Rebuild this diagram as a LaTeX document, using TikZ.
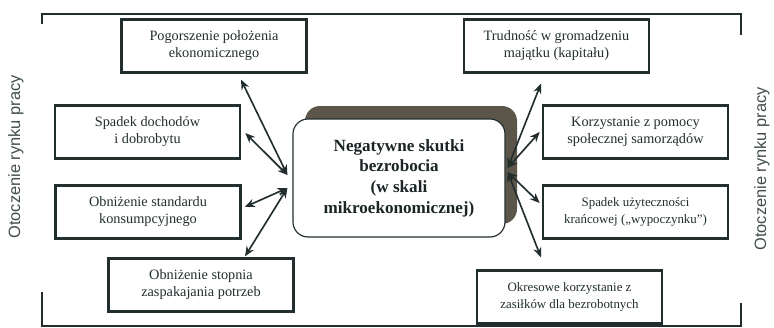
\documentclass[tikz,border=0pt]{standalone}
\usepackage{fontspec}
\setmainfont{Liberation Serif}
\newfontfamily\bokfont{Liberation Sans}
\usetikzlibrary{arrows.meta,calc,shadows}

\definecolor{ramka}{RGB}{34,46,46}
\definecolor{cien}{RGB}{92,86,74}

\tikzset{
  skutek/.style={draw=ramka,line width=2.2pt,minimum width=5.55cm,minimum height=1.58cm,
    align=center,text=ramka,inner sep=2pt,font=\fontsize{12.2}{14.5}\selectfont},
  skutekmaly/.style={skutek,font=\fontsize{11}{14}\selectfont},
  glowny/.style={draw=ramka,line width=1pt,rounded corners=0.45cm,fill=white,
    minimum width=6.36cm,minimum height=3.54cm,align=center,text=ramka!80!black,
    font=\fontsize{14.6}{17.6}\selectfont\bfseries,
    general shadow={shadow xshift=0.36cm,shadow yshift=0.39cm,fill=cien}},
  polaczenie/.style={{Stealth[length=8.5pt,width=7pt]}-{Stealth[length=8.5pt,width=7pt]},
    line width=1.4pt,draw=ramka},
  bok/.style={rotate=90,text=ramka!85,font=\bokfont\fontsize{14}{16}\selectfont}
}

\begin{document}
\begin{tikzpicture}[x=0.03cm,y=-0.03cm]
  \useasboundingbox (0,0) rectangle (774,327);

  % ramka otoczenia
  \draw[ramka,line width=2pt] (42,24) -- (42,14) -- (741,14) -- (741,35);
  \draw[ramka,line width=2pt] (42,292) -- (42,326) -- (741,326) -- (741,303);
  \node[bok] (otlewe) at (16,157) {Otoczenie rynku pracy};
  \node[bok] (otprawe) at (762,169) {Otoczenie rynku pracy};

  % srodek
  \node[glowny] (skutki) at (399,178) {Negatywne skutki\\bezrobocia\\(w skali\\mikroekonomicznej)};

  % lewa strona
  \node[skutek] (pogorszenie) at (214,46) {Pogorszenie położenia\\ekonomicznego};
  \node[skutek] (dochody) at (147.5,132) {Spadek dochodów\\i dobrobytu};
  \node[skutek] (standard) at (148,212) {Obniżenie standardu\\konsumpcyjnego};
  \node[skutek] (stopien) at (201,285) {Obniżenie stopnia\\zaspakajania potrzeb};

  % prawa strona
  \node[skutek] (trudnosc) at (556.5,46) {Trudność w gromadzeniu\\majątku (kapitału)};
  \node[skutek] (pomoc) at (635.5,132) {Korzystanie z pomocy\\społecznej samorządów};
  \node[skutekmaly] (uzytecznosc) at (635.5,212) {Spadek użyteczności\\krańcowej („wypoczynku”)};
  \node[skutekmaly] (zasilki) at (569.5,297) {Okresowe korzystanie z\\zasiłków dla bezrobotnych};

  \coordinate (lg) at ($(skutki.west)+(-5,-3)$);
  \coordinate (ld) at ($(skutki.west)+(-5,10)$);
  \coordinate (pg) at ($(skutki.east)+(2,-10)$);
  \coordinate (pd) at ($(skutki.east)+(2,-6)$);

  % strzalki
  \draw[polaczenie] (lg) -- ($(pogorszenie.south)+(27,6)$);
  \draw[polaczenie] (lg) -- ($(dochody.east)+(4,1)$);
  \draw[polaczenie] (ld) -- ($(standard.east)+(3,-5)$);
  \draw[polaczenie] (ld) -- ($(stopien.north)+(44,-1)$);
  \draw[polaczenie] (pg) -- ($(trudnosc.south)+(-15.5,10)$);
  \draw[polaczenie] (pg) -- ($(pomoc.west)+(-2,0)$);
  \draw[polaczenie] (pd) -- ($(uzytecznosc.west)+(-2,-9)$);
  \draw[polaczenie] (pd) -- ($(zasilki.north)+(-28.5,-12)$);
\end{tikzpicture}
\end{document}
